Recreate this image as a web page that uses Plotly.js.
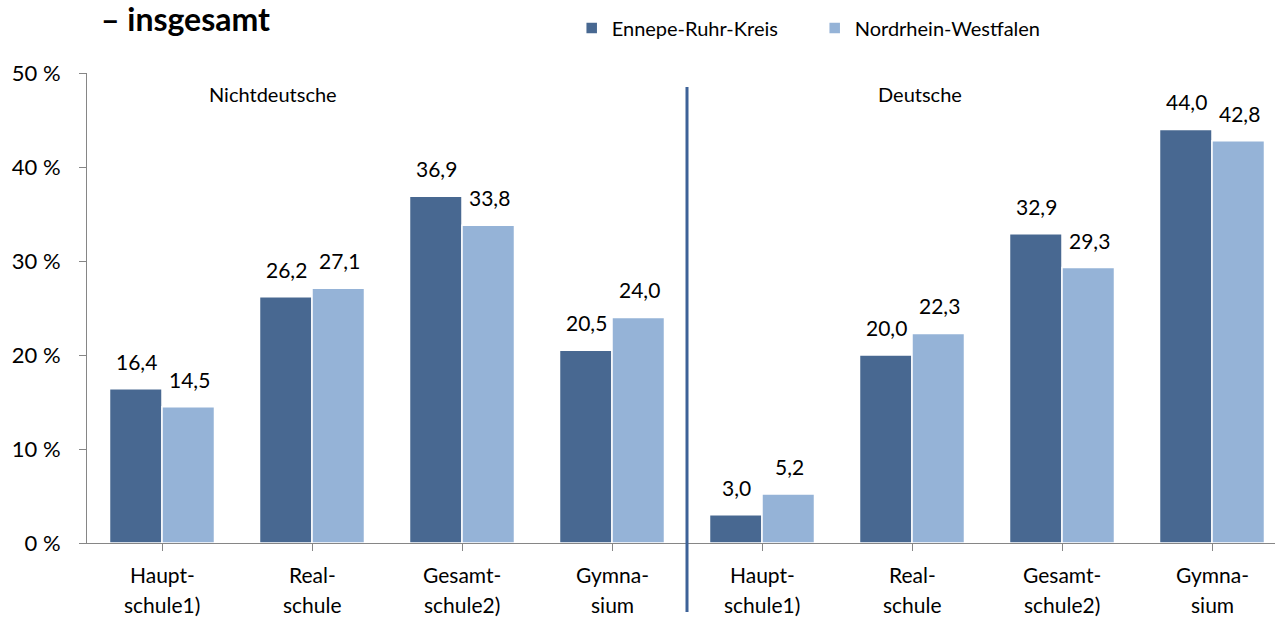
<!DOCTYPE html>
<html>
<head>
<meta charset="utf-8">
<script src="https://cdn.plot.ly/plotly-3.0.1.min.js"></script>
<style>html,body{margin:0;padding:0;background:#fff;}#chart{width:1275px;height:619px;}</style>
</head>
<body>
<div id="chart"></div>
<script>
// ---- data ----
const categoriesLine1 = ["Haupt-", "Real-", "Gesamt-", "Gymna-", "Haupt-", "Real-", "Gesamt-", "Gymna-"];
const categoriesLine2 = ["schule1)", "schule", "schule2)", "sium", "schule1)", "schule", "schule2)", "sium"];
const groupLabels = ["Nichtdeutsche", "Deutsche"];
const seriesNames = ["Ennepe-Ruhr-Kreis", "Nordrhein-Westfalen"];
const ennepeRuhr = [16.4, 26.2, 36.9, 20.5, 3.0, 20.0, 32.9, 44.0];
const nrw = [14.5, 27.1, 33.8, 24.0, 5.2, 22.3, 29.3, 42.8];
const yTicks = [0, 10, 20, 30, 40, 50];
const titleText = "– insgesamt";

// ---- styles ----
const FONT = "Lato, 'Open Sans', sans-serif";
const colors = ["#486891", "#95B3D7"];
const xIdx = categoriesLine1.map((_, i) => i);
const fmt = v => v.toFixed(1).replace('.', ',');

const series = [ennepeRuhr, nrw];
const traces = series.map((vals, s) => ({
  type: 'bar',
  name: seriesNames[s],
  x: xIdx,
  y: vals,
  marker: {color: colors[s], line: {color: '#ffffff', width: 1.5}},
  hoverinfo: 'skip'
}));

const annotations = [];
series.forEach((vals, s) => {
  vals.forEach((v, i) => {
    annotations.push({
      x: i, y: v, xref: 'x', yref: 'y',
      xshift: s === 0 ? -26 : 27, yshift: 13,
      yanchor: 'bottom', xanchor: 'center',
      text: fmt(v), showarrow: false,
      font: {family: FONT, size: 21, color: '#000'}
    });
  });
});
xIdx.forEach(i => {
  annotations.push({x: i, y: -0.068, xref: 'x', yref: 'paper', yanchor: 'middle', xanchor: 'center',
    text: categoriesLine1[i], showarrow: false, font: {family: FONT, size: 21, color: '#000'}});
  annotations.push({x: i, y: -0.130, xref: 'x', yref: 'paper', yanchor: 'middle', xanchor: 'center',
    text: categoriesLine2[i], showarrow: false, font: {family: FONT, size: 21, color: '#000'}});
});
annotations.push({x: 0.74, y: 0.955, xref: 'x', yref: 'paper', xanchor: 'center', yanchor: 'middle',
  text: groupLabels[0], showarrow: false, font: {family: FONT, size: 20, color: '#000'}});
annotations.push({x: 5.05, y: 0.955, xref: 'x', yref: 'paper', xanchor: 'center', yanchor: 'middle',
  text: groupLabels[1], showarrow: false, font: {family: FONT, size: 20, color: '#000'}});
annotations.push({x: 0.01, y: 1.117, xref: 'paper', yref: 'paper', xanchor: 'left', yanchor: 'middle',
  text: '<b>' + titleText + '</b>', showarrow: false, font: {family: FONT, size: 32, color: '#000'}});

const layout = {
  width: 1275, height: 619,
  margin: {l: 87, r: 0, t: 73, b: 76},
  paper_bgcolor: '#fff', plot_bgcolor: '#fff',
  barmode: 'group', bargap: 0.3, bargroupgap: 0,
  separators: ',.',
  font: {family: FONT, size: 18, color: '#000'},
  showlegend: true,
  legend: {orientation: 'h', x: 0.408, xanchor: 'left', y: 1.096, yanchor: 'middle',
    font: {family: FONT, size: 20, color: '#000'}, itemwidth: 30, traceorder: 'normal',
    entrywidth: 198, entrywidthmode: 'pixels'},
  xaxis: {range: [-0.5, 7.42], showgrid: false, zeroline: false, showline: true, linecolor: '#868686', linewidth: 1,
    ticks: 'outside', ticklen: 7, tickcolor: '#868686', tickson: 'boundaries', showticklabels: false,
    tickvals: xIdx, fixedrange: true},
  yaxis: {range: [0, 50], tickvals: yTicks, ticktext: yTicks.map(t => t + ' %'), showgrid: false, zeroline: false,
    showline: true, linecolor: '#868686', linewidth: 1, ticks: 'outside', ticklen: 7, tickcolor: '#868686',
    ticklabelstandoff: 14, tickfont: {family: FONT, size: 22, color: '#000'}, fixedrange: true},
  shapes: [{type: 'line', xref: 'x', yref: 'paper', x0: 3.5, x1: 3.5, y0: -0.147, y1: 0.970,
    line: {color: '#3D6298', width: 3}}],
  annotations: annotations
};

Plotly.newPlot('chart', traces, layout, {displayModeBar: false, staticPlot: true});
</script>
</body>
</html>
